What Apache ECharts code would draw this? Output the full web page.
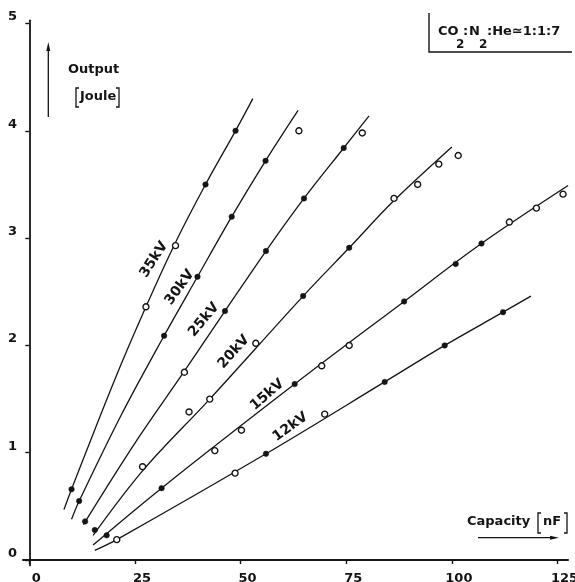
<!DOCTYPE html>
<html><head><meta charset="utf-8">
<script src="https://cdn.jsdelivr.net/npm/echarts@6/dist/echarts.min.js"></script>
<style>html,body{margin:0;padding:0;background:#fff}#c{width:575px;height:582px}</style>
</head><body><div id="c"></div>
<script>
// ---- data (Capacity nF, Output Joule) ----
const xTicks = [0, 25, 50, 75, 100, 125];
const yTicks = [0, 1, 2, 3, 4, 5];
const voltages = ['35kV', '30kV', '25kV', '20kV', '15kV', '12kV'];

// fitted curves
const curve35 = [[8.2,0.47],[10,0.66],[20,1.66],[27.6,2.36],[34.6,2.96],[41.7,3.50],[48.8,4.0],[52.9,4.3]];
const curve30 = [[10,0.38],[11.8,0.55],[22,1.37],[31.9,2.09],[39.8,2.64],[47.9,3.20],[55.9,3.72],[63.6,4.19]];
const curve25 = [[12.8,0.33],[25,1.09],[36.7,1.76],[46.3,2.32],[56,2.88],[65,3.37],[74.4,3.84],[80.4,4.14]];
const curve20 = [[15.1,0.23],[27,0.84],[42.7,1.50],[64.8,2.46],[75.7,2.91],[86.3,3.35],[100,3.85]];
const curve15 = [[15.1,0.14],[31.3,0.67],[62.8,1.64],[88.7,2.41],[107,2.95],[127.5,3.49]];
const curve12 = [[15.5,0.09],[20.7,0.19],[56,0.99],[84.1,1.66],[98.3,2.0],[112.1,2.31],[118.7,2.46]];

// measured points [nF, J, filled=1 / open=0]
const pts35 = [[10.0,0.66,1],[27.6,2.36,0],[34.6,2.93,0],[41.7,3.50,1],[48.8,4.00,1]];
const pts30 = [[11.8,0.55,1],[31.9,2.09,1],[39.8,2.64,1],[47.9,3.20,1],[55.9,3.72,1],[63.8,4.00,0]];
const pts25 = [[13.2,0.36,1],[36.7,1.75,0],[46.3,2.32,1],[56.0,2.88,1],[65.0,3.37,1],[74.4,3.84,1],[78.8,3.98,0]];
const pts20 = [[15.5,0.28,1],[26.8,0.87,0],[37.8,1.38,0],[42.7,1.50,0],[53.6,2.02,0],[64.8,2.46,1],[75.7,2.91,1],[86.3,3.37,0],[91.9,3.50,0],[96.9,3.69,0],[101.5,3.77,0]];
const pts15 = [[18.3,0.23,1],[31.3,0.67,1],[43.9,1.02,0],[50.2,1.21,0],[62.8,1.64,1],[69.2,1.81,0],[75.7,2.00,0],[88.7,2.41,1],[100.9,2.76,1],[107.0,2.95,1],[113.6,3.15,0],[120.0,3.28,0],[126.3,3.41,0]];
const pts12 = [[20.7,0.19,0],[48.7,0.81,0],[56.0,0.99,1],[69.9,1.36,0],[84.1,1.66,1],[98.3,2.00,1],[112.1,2.31,1]];

// curve label anchors (data units)
const labelAnchors = [[29.5,2.80],[35.6,2.54],[41.3,2.24],[48.4,1.94],[56.3,1.54],[61.8,1.24]];

// ---- build chart ----
const curves = [curve35, curve30, curve25, curve20, curve15, curve12];
const points = [pts35, pts30, pts25, pts20, pts15, pts12];
const labelAngles = [57, 54, 50, 48, 41, 36];
const INK = '#141414';
const FONT = '"DejaVu Sans", sans-serif';

const series = [];
curves.forEach((c, i) => {
  series.push({
    type: 'line', name: voltages[i], data: c, smooth: 0.35, showSymbol: false, symbol: 'none',
    clip: false, silent: true,
    lineStyle: { color: INK, width: 1.3 }
  });
});
points.forEach((p, i) => {
  series.push({
    type: 'scatter', name: voltages[i] + ' pts', clip: false, silent: true, z: 5,
    itemStyle: { opacity: 1 },
    data: p.map(d => ({
      value: [d[0], d[1]],
      symbolSize: d[2] ? 5.5 : 6,
      itemStyle: d[2]
        ? { color: INK, borderColor: INK, borderWidth: 0.5, opacity: 1 }
        : { color: '#fff', borderColor: INK, borderWidth: 1.4, opacity: 1 }
    }))
  });
});
series.push({
  type: 'scatter', name: 'labels', silent: true, symbolSize: 1, z: 6,
  itemStyle: { color: 'rgba(0,0,0,0)', opacity: 1 },
  data: labelAnchors.map((a, i) => ({
    value: a,
    label: {
      show: true, position: 'inside', formatter: voltages[i], rotate: labelAngles[i],
      color: INK, fontFamily: FONT, fontWeight: 'bold', fontSize: 14
    }
  }))
});

const axisLineStyle = { color: INK, width: 1.8 };
const txt = (x, y, t, size) => ({ type: 'text', x: x, y: y, style: { text: t, fill: INK, fontFamily: FONT, fontWeight: 'bold', fontSize: size || 13, align: 'left', verticalAlign: 'middle' } });
const option = {
  animation: false,
  backgroundColor: '#fff',
  grid: { left: 22.96, right: 6.9, top: 20.3, bottom: 16.6, containLabel: false, outerBoundsMode: 'none' },
  xAxis: {
    type: 'value', min: -1.5, max: 127.5,
    axisLine: { show: true, onZero: true, lineStyle: axisLineStyle },
    axisTick: { show: true, customValues: xTicks, length: 4, lineStyle: { color: INK, width: 1.4 } },
    axisLabel: { customValues: xTicks, color: INK, fontFamily: FONT, fontWeight: 'bold', fontSize: 13, margin: 7, padding: [0, 0, 0, 14] },
    splitLine: { show: false }
  },
  yAxis: {
    type: 'value', min: -0.05, max: 5.03,
    axisLine: { show: true, onZero: true, lineStyle: axisLineStyle },
    axisTick: { show: true, customValues: yTicks, length: 4, lineStyle: { color: INK, width: 1.4 } },
    axisLabel: { customValues: yTicks, color: INK, fontFamily: FONT, fontWeight: 'bold', fontSize: 13, margin: 6, verticalAlign: 'bottom' },
    splitLine: { show: false }
  },
  series: series,
  graphic: [
    // Y title + arrow
    txt(68, 70, 'Output'),
    txt(80, 97, 'Joule'),
    { type: 'polyline', shape: { points: [[79,88],[76,88],[76,107],[79,107]] }, style: { stroke: INK, lineWidth: 1.3, fill: null } },
    { type: 'polyline', shape: { points: [[116,88],[119,88],[119,107],[116,107]] }, style: { stroke: INK, lineWidth: 1.3, fill: null } },
    { type: 'line', shape: { x1: 48.3, y1: 117, x2: 48.3, y2: 47 }, style: { stroke: INK, lineWidth: 1.3 } },
    { type: 'polygon', shape: { points: [[48.3,42],[46.3,51],[50.3,51]] }, style: { fill: INK } },
    // X title + arrow
    txt(467, 522, 'Capacity'),
    txt(543, 522, 'nF'),
    { type: 'polyline', shape: { points: [[541,513],[538,513],[538,533],[541,533]] }, style: { stroke: INK, lineWidth: 1.3, fill: null } },
    { type: 'polyline', shape: { points: [[564,513],[567,513],[567,533],[564,533]] }, style: { stroke: INK, lineWidth: 1.3, fill: null } },
    { type: 'line', shape: { x1: 478, y1: 537.7, x2: 553, y2: 537.7 }, style: { stroke: INK, lineWidth: 1.3 } },
    { type: 'polygon', shape: { points: [[559,537.7],[550,535.7],[550,539.7]] }, style: { fill: INK } },
    // gas mixture box
    { type: 'polyline', shape: { points: [[429,13],[429,52],[572,52]] }, style: { stroke: INK, lineWidth: 1.4, fill: null } },
    txt(438, 32, 'CO'),
    txt(456, 45, '2', 12),
    txt(463, 32, ':'),
    txt(469, 32, 'N'),
    txt(479, 45, '2', 12),
    txt(487, 32, ':He\u22431:1:7')
  ]
};
const chart = echarts.init(document.getElementById('c'), null, { renderer: 'canvas' });
chart.setOption(option);
</script>
</body></html>
